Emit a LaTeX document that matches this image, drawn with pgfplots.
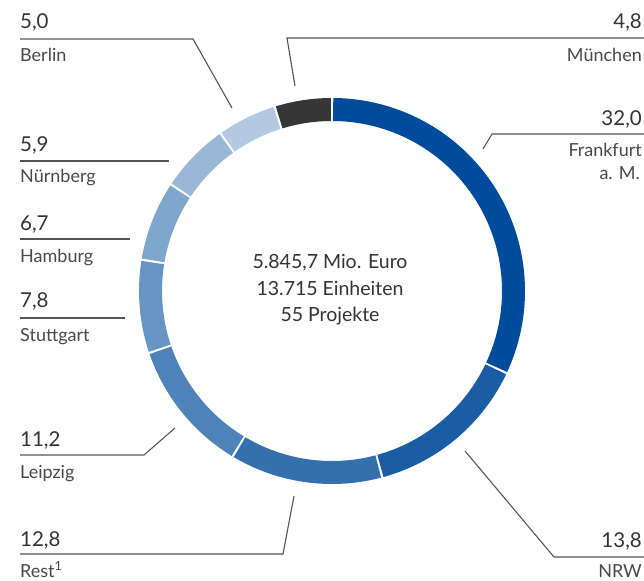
\documentclass[border=0pt]{standalone}
\usepackage{pgfplots}
\pgfplotsset{compat=1.18}
\usepackage{fontspec}
\setmainfont{Lato}
\definecolor{cF}{RGB}{0,75,155}
\definecolor{cN}{RGB}{27,93,164}
\definecolor{cR}{RGB}{52,112,174}
\definecolor{cL}{RGB}{77,131,184}
\definecolor{cS}{RGB}{103,149,196}
\definecolor{cH}{RGB}{127,166,205}
\definecolor{cB1}{RGB}{153,183,214}
\definecolor{cB2}{RGB}{178,201,225}
\definecolor{cM}{RGB}{54,54,54}
\definecolor{txt}{RGB}{51,51,51}
\definecolor{txt2}{RGB}{72,72,72}
\definecolor{ln}{RGB}{85,85,85}
\begin{document}
\begin{tikzpicture}
\useasboundingbox (0,0) rectangle (644pt,580pt);
\begin{axis}[x=1pt,y=1pt,xmin=0,xmax=644,ymin=0,ymax=580,hide axis,clip=false,
  anchor=south west,at={(0,0)},
  seg/.style={line width=23pt,samples=90,no markers,line cap=butt}]
% shares in percent, clockwise from top:
% Frankfurt 32.0, NRW 13.8, Rest 12.8, Leipzig 11.2, Stuttgart 7.8,
% Hamburg 6.7, Nuernberg 5.9, Berlin 5.0, Muenchen 4.8
\addplot[seg,cF,domain={90-3.6*32.0+0.35}:{90-3.6*0-0.35}] ({332+181.5*cos(x)},{289+181.5*sin(x)});
\addplot[seg,cN,domain={90-3.6*45.8+0.35}:{90-3.6*32.0-0.35}] ({332+181.5*cos(x)},{289+181.5*sin(x)});
\addplot[seg,cR,domain={90-3.6*58.6+0.35}:{90-3.6*45.8-0.35}] ({332+181.5*cos(x)},{289+181.5*sin(x)});
\addplot[seg,cL,domain={90-3.6*69.8+0.35}:{90-3.6*58.6-0.35}] ({332+181.5*cos(x)},{289+181.5*sin(x)});
\addplot[seg,cS,domain={90-3.6*77.6+0.35}:{90-3.6*69.8-0.35}] ({332+181.5*cos(x)},{289+181.5*sin(x)});
\addplot[seg,cH,domain={90-3.6*84.3+0.35}:{90-3.6*77.6-0.35}] ({332+181.5*cos(x)},{289+181.5*sin(x)});
\addplot[seg,cB1,domain={90-3.6*90.2+0.35}:{90-3.6*84.3-0.35}] ({332+181.5*cos(x)},{289+181.5*sin(x)});
\addplot[seg,cB2,domain={90-3.6*95.2+0.35}:{90-3.6*90.2-0.35}] ({332+181.5*cos(x)},{289+181.5*sin(x)});
\addplot[seg,cM,domain={90-3.6*100+0.35}:{90-3.6*95.2-0.35}] ({332+181.5*cos(x)},{289+181.5*sin(x)});

% leader lines
\draw[ln,line width=1.1pt] (axis cs:20,541) -- (axis cs:193,541) -- (axis cs:232,472);
\draw[ln,line width=1.1pt] (axis cs:644,542) -- (axis cs:287,542) -- (axis cs:295,494);
\draw[ln,line width=1.1pt] (axis cs:644,446) -- (axis cs:492,446) -- (axis cs:483,431);
\draw[ln,line width=1.1pt] (axis cs:20,419) -- (axis cs:169,419);
\draw[ln,line width=1.1pt] (axis cs:20,341) -- (axis cs:130,341);
\draw[ln,line width=1.1pt] (axis cs:20,262) -- (axis cs:125,262);
\draw[ln,line width=1.1pt] (axis cs:20,125) -- (axis cs:144,125) -- (axis cs:175,152);
\draw[ln,line width=1.1pt] (axis cs:20,26) -- (axis cs:283,26) -- (axis cs:294,84);
\draw[ln,line width=1.1pt] (axis cs:644,23) -- (axis cs:554,23) -- (axis cs:465,129);

\tikzset{num/.style={inner sep=0pt,text=txt,font=\fontsize{20.5}{24}\selectfont},
         nam/.style={inner sep=0pt,text=txt2,font=\fontsize{18}{22}\selectfont},
         ctr/.style={inner sep=0pt,text=txt,font=\fontsize{19.5}{23}\selectfont,anchor=base}}
% left labels
\node[num,anchor=base west] at (axis cs:20,551) {5,0};
\node[nam,anchor=base west] at (axis cs:20,518) {Berlin};
\node[num,anchor=base west] at (axis cs:20,428) {5,9};
\node[nam,anchor=base west] at (axis cs:20,397) {Nürnberg};
\node[num,anchor=base west] at (axis cs:20,349) {6,7};
\node[nam,anchor=base west] at (axis cs:20,317) {Hamburg};
\node[num,anchor=base west] at (axis cs:20,272) {7,8};
\node[nam,anchor=base west] at (axis cs:20,238) {Stuttgart};
\node[num,anchor=base west] at (axis cs:20,133) {11,2};
\node[nam,anchor=base west] at (axis cs:20,101) {Leipzig};
\node[num,anchor=base west] at (axis cs:20,34) {12,8};
\node[nam,anchor=base west] at (axis cs:20,3) {Rest\textsuperscript{1}};
% right labels
\node[num,anchor=base east] at (axis cs:642,551) {4,8};
\node[nam,anchor=base east] at (axis cs:642,518) {München};
\node[num,anchor=base east] at (axis cs:642,454) {32,0};
\node[nam,anchor=base east] at (axis cs:642,423) {Frankfurt};
\node[nam,anchor=base east] at (axis cs:640,400) {a. M.};
\node[num,anchor=base east] at (axis cs:642,32) {13,8};
\node[nam,anchor=base east] at (axis cs:642,3) {NRW};
% centre
\node[ctr] at (axis cs:330,311) {5.845,7 Mio. Euro};
\node[ctr] at (axis cs:330,284) {13.715 Einheiten};
\node[ctr] at (axis cs:330,258) {55 Projekte};
\end{axis}
\end{tikzpicture}
\end{document}
